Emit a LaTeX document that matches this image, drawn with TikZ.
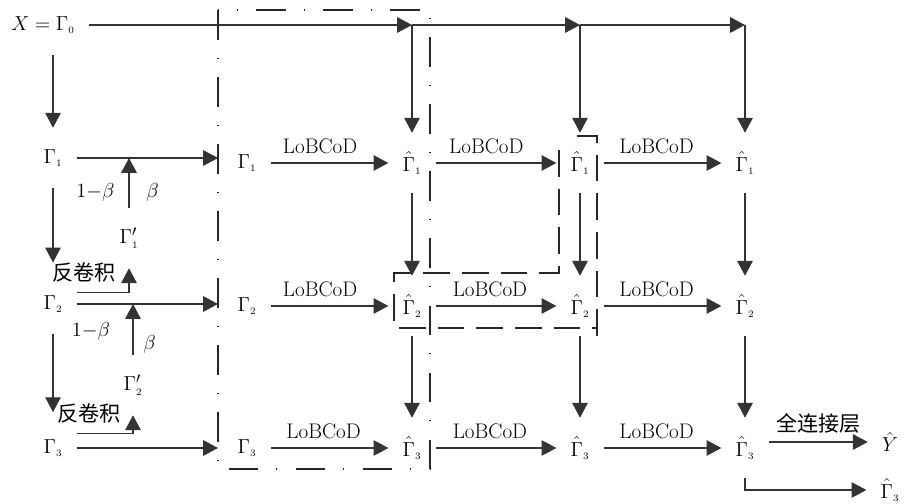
\documentclass[tikz,border=0pt]{standalone}
\usepackage{fontspec}
\newfontfamily\cjk{Noto Sans CJK SC}
\usetikzlibrary{arrows.meta}
% Gamma with a small index, plain and hatted
\newcommand{\gm}[1]{\Gamma_{\scriptscriptstyle #1}}
\newcommand{\hgm}[1]{\hat{\Gamma}_{\scriptscriptstyle #1}}

\begin{document}
\begin{tikzpicture}[
        x=0.025cm, y=-0.025cm,
        font=\fontsize{15}{18}\selectfont,
        term/.style={inner xsep=0.35cm, inner ysep=0pt, minimum height=1.5cm},
        tag/.style={inner sep=2pt},
        flow/.style={draw=black!80, line width=0.75pt, -{Triangle[length=10.5pt, width=11pt]}},
        grpA/.style={draw=black!85, line width=0.75pt, dash pattern=on 21pt off 13pt on 0.7pt off 13pt},
        grpB/.style={draw=black!85, line width=0.75pt, dash pattern=on 19pt off 8.5pt}
    ]
    \useasboundingbox (0,0) rectangle (904,504);

    % input and the left branch
    \node[term] (X0) at (43,25) {$X=\gm{0}$};
    \node[term] (L1) at (53,158) {$\gm{1}$};
    \node[term] (L2) at (53,304) {$\gm{2}$};
    \node[term] (L3) at (53,448) {$\gm{3}$};
    \node[term] (P1) at (129,238) {$\gm{1}'$};
    \node[term] (P2) at (133,385) {$\gm{2}'$};
    \node[tag] (dc1) at (84,272) {\cjk 反卷积};
    \node[tag] (dc2) at (89,413) {\cjk 反卷积};

    % grid of blocks
    \node[term] (B1) at (247,163) {$\gm{1}$};
    \node[term] (B2) at (247,306) {$\gm{2}$};
    \node[term] (B3) at (247,448) {$\gm{3}$};
    \node[term] (H11) at (412,163) {$\hgm{1}$};
    \node[term] (H12) at (580,163) {$\hgm{1}$};
    \node[term] (H13) at (745,163) {$\hgm{1}$};
    \node[term] (H21) at (412,306) {$\hgm{2}$};
    \node[term] (H22) at (580,306) {$\hgm{2}$};
    \node[term] (H23) at (745,306) {$\hgm{2}$};
    \node[term] (H31) at (412,448) {$\hgm{3}$};
    \node[term] (H32) at (580,448) {$\hgm{3}$};
    \node[term] (H33) at (745,448) {$\hgm{3}$};
    \node[term] (Y) at (890,442) {$\hat{Y}$};
    \node[term] (G) at (890,490) {$\hgm{3}$};

    % frames
    \coordinate (bxA) at (218,10);
    \coordinate (bxB) at (430,469);
    \draw[grpA] (bxA) rectangle (bxB);
    \draw[grpB] (559,150) -- (559,273) -- (394,273) -- (394,328) -- (597,328)
        (597,336) -- (597,136) -- (568,136);

    % input line on top
    \draw[flow] (X0) -- (X0 -| H11);
    \draw[flow] (X0 -| H11) -- (X0 -| H12);
    \draw[flow] (X0 -| H12) -- (X0 -| H13);
    \draw[flow] (X0 -| H11) -- (H11);
    \draw[flow] (X0 -| H12) -- (H12);
    \draw[flow] (X0 -| H13) -- (H13);

    % left branch
    \draw[flow] (X0.south -| L1) -- (L1);
    \draw[flow, shorten >=8pt] (L1) -- (L2);
    \draw[flow, shorten >=4pt] (L2) -- (L3);
    \draw[flow] (L1) -- (L1 -| bxA);
    \draw[flow] (L2) -- (L2 -| bxA);
    \draw[flow] (L3) -- (L3 -| bxA);
    \draw[flow] (P1) -- (P1 |- L1)
        node[tag, pos=0.3, left=8pt] (w1) {$1{-}\beta$}
        node[tag, pos=0.3, right=10pt] (b1) {$\beta$};
    \draw[flow] (P2) -- (P2 |- L2)
        node[tag, pos=0.45, left=14pt] (w2) {$1{-}\beta$}
        node[tag, pos=0.2, right=5pt] (b2) {$\beta$};
    \draw[flow] ([yshift=8.5pt]L2.east) -| (P1);
    \draw[flow] ([yshift=10pt]L3.east) -| (P2);

    % LoBCoD steps
    \draw[flow] (B1) -- (H11) node[tag, pos=0.42, above=4pt] {LoBCoD};
    \draw[flow] (H11) -- (H12) node[tag, pos=0.42, above=4pt] {LoBCoD};
    \draw[flow] (H12) -- (H13) node[tag, pos=0.45, above=4pt] {LoBCoD};
    \draw[flow] (B2) -- (H21) node[tag, pos=0.42, above=4pt] {LoBCoD};
    \draw[flow] (H21) -- (H22) node[tag, pos=0.45, above=4pt] {LoBCoD};
    \draw[flow] (H22) -- (H23) node[tag, pos=0.45, above=4pt] {LoBCoD};
    \draw[flow] (B3) -- (H31) node[tag, pos=0.45, above=4pt] {LoBCoD};
    \draw[flow] (H31) -- (H32) node[tag, pos=0.45, above=4pt] {LoBCoD};
    \draw[flow] (H32) -- (H33) node[tag, pos=0.45, above=4pt] {LoBCoD};

    % columns
    \draw[flow] (H11) -- (H21);
    \draw[flow] (H21) -- (H31);
    \draw[flow] (H12) -- (H22);
    \draw[flow] (H22) -- (H32);
    \draw[flow] (H13) -- (H23);
    \draw[flow] (H23) -- (H33);

    % output
    \draw[flow] (H33.east |- Y) -- (Y) node[tag, midway, above=4pt] {\cjk 全连接层};
    \draw[flow] (H33) |- (G);
\end{tikzpicture}
\end{document}
